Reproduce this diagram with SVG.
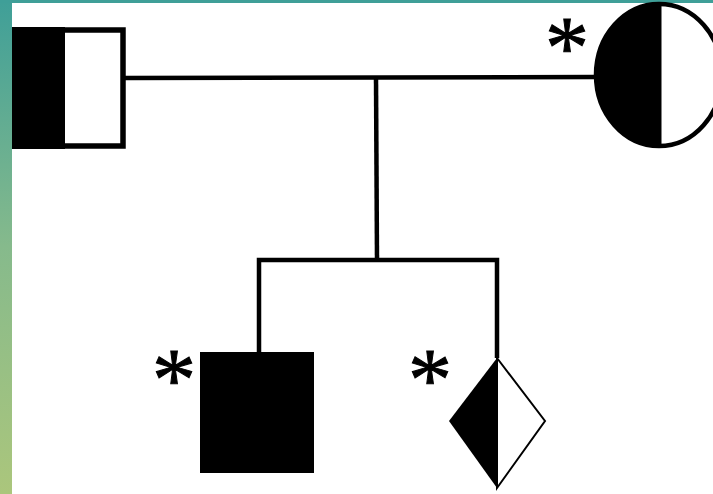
<svg xmlns="http://www.w3.org/2000/svg" width="713" height="494" viewBox="0 0 713 494">
  <defs>
    <linearGradient id="edgeFade" x1="0" y1="0" x2="0" y2="1">
      <stop offset="0" stop-color="#3f9f98"/>
      <stop offset="0.5" stop-color="#86ba8c"/>
      <stop offset="1" stop-color="#abc67c"/>
    </linearGradient>
  </defs>
  <style>
    .line { stroke: #000; stroke-width: 4.5; fill: none; }
    .mark { font-family: "Liberation Serif", serif; font-size: 88px; fill: #000; stroke: #000; stroke-width: 1; text-anchor: middle; }
  </style>

  <rect x="0" y="0" width="713" height="494" fill="#fff"/>
  <rect x="0" y="0" width="12" height="494" fill="url(#edgeFade)"/>
  <rect x="0" y="0" width="713" height="3" fill="#3f9f98"/>

  <g id="connectors">
    <line class="line" x1="124" y1="78" x2="596" y2="77"/>
    <line class="line" x1="376" y1="78" x2="377" y2="260"/>
    <polyline class="line" points="259,352 259,260 497,260 497,358"/>
  </g>

  <g id="father">
    <rect x="15" y="30" width="108" height="116" fill="#fff" stroke="#000" stroke-width="5.5"/>
    <rect x="12" y="27" width="53" height="122" fill="#000"/>
  </g>

  <g id="mother">
    <path d="M660,3 A63,72 0 0 0 660,147 Z" fill="#000"/>
    <ellipse cx="659" cy="75" rx="63" ry="71" fill="none" stroke="#000" stroke-width="4.5"/>
    <line x1="660" y1="3" x2="660" y2="147" stroke="#000" stroke-width="3"/>
    <text class="mark" x="567" y="77">*</text>
  </g>

  <g id="son">
    <rect x="200" y="352" width="114" height="121" fill="#000"/>
    <text class="mark" x="174" y="409">*</text>
  </g>

  <g id="child">
    <polygon points="497,358 545,421 497,488" fill="#fff" stroke="#000" stroke-width="2"/>
    <polygon points="497,358 449,421 497,488" fill="#000"/>
    <text class="mark" x="430" y="409">*</text>
  </g>
</svg>
